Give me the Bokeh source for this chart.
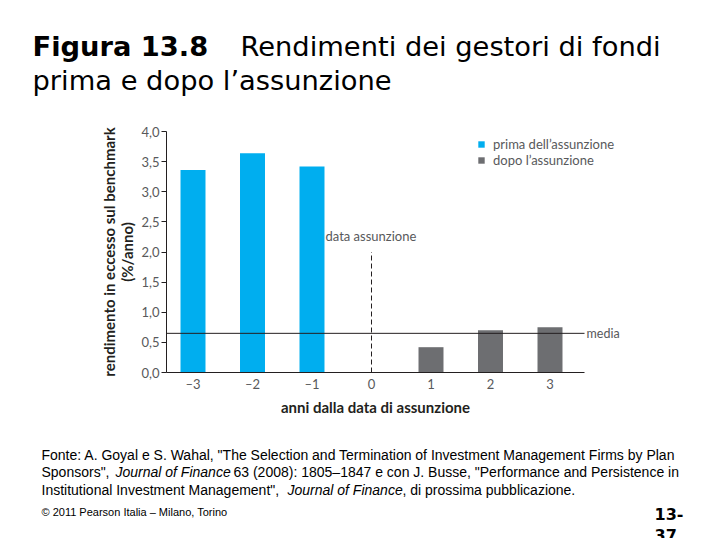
from bokeh.plotting import figure
from bokeh.models import Label, FixedTicker, Legend, LegendItem, Range1d
from bokeh.embed import file_html
from bokeh.resources import INLINE

# ---- data ----
anni_prima = [-3, -2, -1]
rend_prima = [3.36, 3.64, 3.42]
anni_dopo = [1, 2, 3]
rend_dopo = [0.42, 0.70, 0.75]
media = 0.65
data_assunzione = 0
y_ticks = [0.0, 0.5, 1.0, 1.5, 2.0, 2.5, 3.0, 3.5, 4.0]
y_tick_labels = ["0,0", "0,5", "1,0", "1,5", "2,0", "2,5", "3,0", "3,5", "4,0"]
x_ticks = [-3, -2, -1, 0, 1, 2, 3]
x_tick_labels = ["\u20133", "\u20132", "\u20131", "0", "1", "2", "3"]

BLUE = "#00AEEF"
GRAY = "#6D6E71"
CF = "Lato"

W, H = 704, 538
O = 1                      # page offset of canvas
SX, SY = 59.5, 60.25       # px per data unit
X0P, Y0P = 372, 373        # page position of data origin
XS, XE = (167 - X0P) / SX, (585 - X0P) / SX
YS, YE = 0.0, 4.0

p = figure(width=W, height=H, output_backend="svg", toolbar_location=None,
           x_range=Range1d((O - X0P) / SX, (W + O - X0P) / SX),
           y_range=Range1d((Y0P - H - O) / SY, (Y0P - O) / SY),
           min_border=0)
p.outline_line_color = None
p.xgrid.visible = False
p.ygrid.visible = False
p.background_fill_color = "white"
p.border_fill_color = "white"

def X(px):
    return (px - X0P) / SX

def Y(py):
    return (Y0P - py) / SY

# bars
r1 = p.vbar(x=anni_prima, top=rend_prima, width=0.42, bottom=0, color=BLUE, line_color=None)
r2 = p.vbar(x=anni_dopo, top=rend_dopo, width=0.42, bottom=0, color=GRAY, line_color=None)

# media line
p.segment(x0=[XS], y0=[media], x1=[XE], y1=[media], line_color="#231F20", line_width=1)
# data assunzione dashed line
p.segment(x0=[data_assunzione], y0=[0], x1=[data_assunzione], y1=[2.0],
          line_color="#231F20", line_width=1, line_dash="5 3")

# axes
p.yaxis.fixed_location = XS
p.yaxis.bounds = (YS, YE)
p.yaxis.ticker = FixedTicker(ticks=y_ticks)
p.yaxis.major_label_overrides = {t: l for t, l in zip(y_ticks, y_tick_labels)}
p.yaxis.major_tick_out = 5
p.yaxis.major_tick_in = 0
p.yaxis.minor_tick_line_color = None
p.yaxis.axis_line_color = "#231F20"
p.yaxis.major_tick_line_color = "#231F20"
p.yaxis.major_label_text_font = CF
p.yaxis.major_label_text_font_size = "13px"
p.yaxis.major_label_text_color = "#58595B"
p.yaxis.major_label_standoff = 2
p.yaxis.axis_label = "rendimento in eccesso sul benchmark\n(%/anno)"
p.yaxis.axis_label_text_font = CF
p.yaxis.axis_label_text_font_size = "15px"
p.yaxis.axis_label_text_font_style = "bold"
p.yaxis.axis_label_text_color = "#231F20"
p.yaxis.axis_label_text_line_height = 1.0
p.yaxis.axis_label_standoff = 2

p.xaxis.fixed_location = 0
p.xaxis.bounds = (XS, XE)
p.xaxis.ticker = FixedTicker(ticks=x_ticks)
p.xaxis.major_label_overrides = {t: l for t, l in zip(x_ticks, x_tick_labels)}
p.xaxis.major_tick_out = 0
p.xaxis.major_tick_in = 0
p.xaxis.minor_tick_line_color = None
p.xaxis.axis_line_color = "#231F20"
p.xaxis.major_label_text_font = CF
p.xaxis.major_label_text_font_size = "13px"
p.xaxis.major_label_text_color = "#58595B"
p.xaxis.major_label_standoff = 3
p.xaxis.axis_label = "anni dalla data di assunzione"
p.xaxis.axis_label_text_font = CF
p.xaxis.axis_label_text_font_size = "15px"
p.xaxis.axis_label_text_font_style = "bold"
p.xaxis.axis_label_text_color = "#231F20"
p.xaxis.axis_label_standoff = 3

# legend
legend = Legend(items=[LegendItem(label="prima dell\u2019assunzione", renderers=[r1]),
                       LegendItem(label="dopo l\u2019assunzione", renderers=[r2])],
                location=(478 - O, H - (168.5 - O)), padding=0, margin=0, spacing=0,
                glyph_width=8, glyph_height=8, label_height=15, label_standoff=8,
                label_text_font=CF, label_text_font_size="13px",
                label_text_color="#58595B", border_line_color=None,
                background_fill_alpha=0)
p.add_layout(legend, "center")

def lab(px, py, text, font=CF, size="13px", style="normal", color="#58595B",
        baseline="middle", align="left"):
    p.add_layout(Label(x=X(px), y=Y(py), text=text, text_font=font,
                       text_font_size=size, text_font_style=style,
                       text_color=color, text_baseline=baseline, text_align=align))

lab(326, 236, "data assunzione")
lab(587, 334, "media", size="12.5px")

# title
TF = "DejaVu Sans"
lab(33, 47, "Figura 13.8", font=TF, size="27.3px", style="bold", color="black", baseline="alphabetic")
lab(241, 47, "Rendimenti dei gestori di fondi", font=TF, size="27.3px", color="black", baseline="alphabetic")
lab(33, 81, "prima e dopo l\u2019assunzione", font=TF, size="27.3px", color="black", baseline="alphabetic")

# footnote
NF = "Liberation Sans"
FS = "14px"
lab(42, 455, 'Fonte: A. Goyal e S. Wahal, "The Selection and Termination of Investment Management Firms by Plan',
    font=NF, size=FS, color="black", baseline="alphabetic")
lab(42, 472.5, 'Sponsors",', font=NF, size=FS, color="black", baseline="alphabetic")
lab(116, 472.5, "Journal of Finance", font=NF, size=FS, style="italic", color="black", baseline="alphabetic")
lab(234, 472.5, '63 (2008): 1805\u20131847 e con J. Busse, "Performance and Persistence in',
    font=NF, size=FS, color="black", baseline="alphabetic")
lab(42, 490, 'Institutional Investment Management",', font=NF, size=FS, color="black", baseline="alphabetic")
lab(288, 490, "Journal of Finance", font=NF, size=FS, style="italic", color="black", baseline="alphabetic")
lab(403, 490, ", di prossima pubblicazione.", font=NF, size=FS, color="black", baseline="alphabetic")
lab(42, 512, "\u00a9 2011 Pearson Italia \u2013 Milano, Torino", font=NF, size="11px", color="black", baseline="alphabetic")
lab(655, 514, "13-", font=TF, size="16px", style="bold", color="black", baseline="alphabetic")
lab(655, 535, "37", font=TF, size="16px", style="bold", color="black", baseline="alphabetic")

open("out.html", "w").write(file_html(p, INLINE))
